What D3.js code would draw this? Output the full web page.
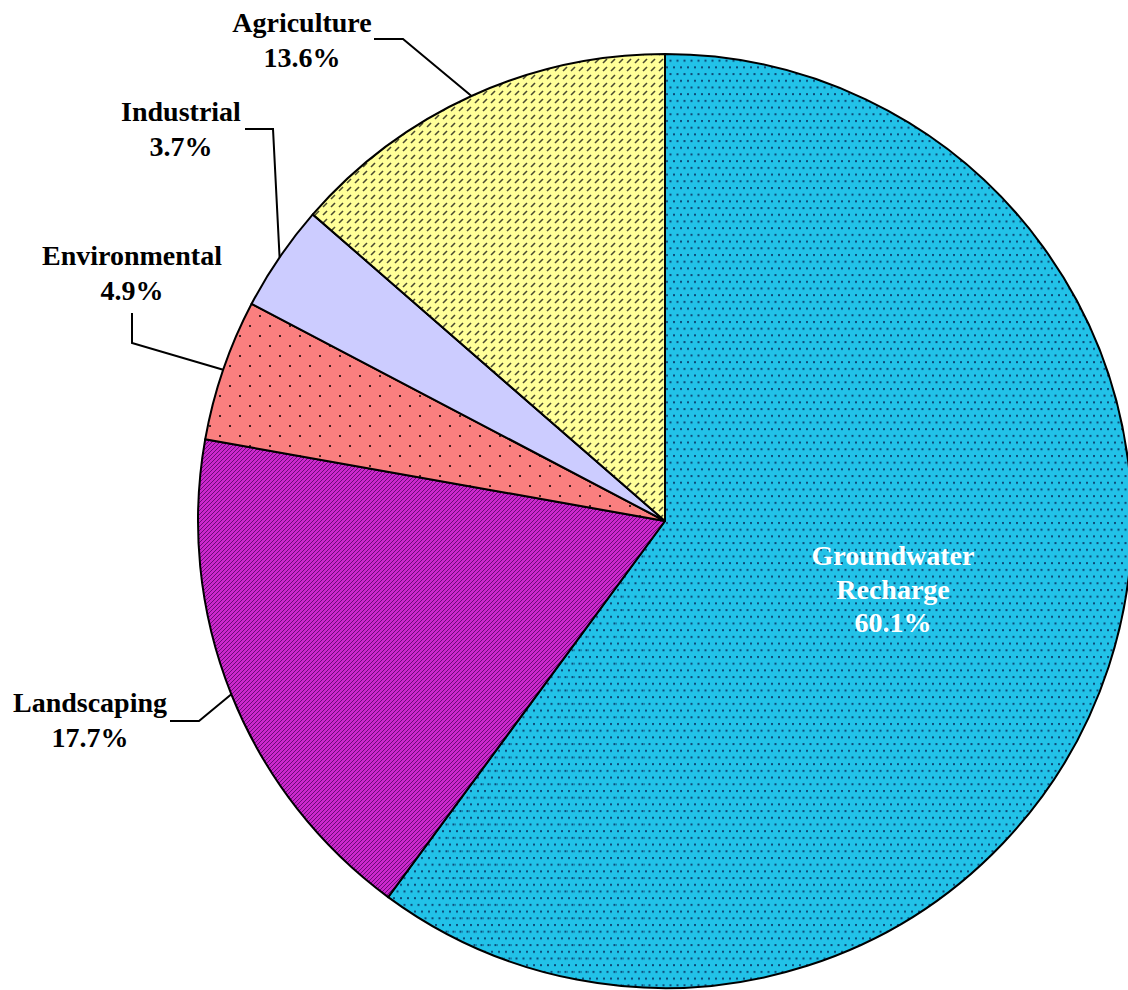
<!DOCTYPE html>
<html>
<head>
<meta charset="utf-8">
<script src="https://cdn.jsdelivr.net/npm/d3@7"></script>
<style>
  body { margin: 0; background: #fff; }
  text { font-family: "Liberation Serif", "Times New Roman", serif; font-weight: bold; font-size: 28px; }
</style>
</head>
<body>
<svg id="chart" width="1128" height="990"></svg>
<script>
// slices, clockwise from 12 o'clock
var categories = ["Groundwater Recharge", "Landscaping", "Environmental", "Industrial", "Agriculture"];
var values = [60.1, 17.7, 4.9, 3.7, 13.6];
var fills = ["#22c2e8", "#cc28cc", "#fa7f7f", "#ccccff", "#ffff99"];
var patterns = ["dots", "stripes", "sparse", "none", "dashes"];

// label layout: text lines, text anchor point, elbow of leader line
var labelLines = [["Groundwater", "Recharge", "60.1%"], ["Landscaping", "17.7%"], ["Environmental", "4.9%"], ["Industrial", "3.7%"], ["Agriculture", "13.6%"]];
var labelPos = [[893, 565], [90, 712], [132, 265], [181, 121], [302, 32]];
var leaderStart = [null, [170, 721], [132, 313], [245, 129], [374, 39]];
var leaderElbow = [null, [199, 721], [132, 343], [273, 129], [403, 39]];

var svg = d3.select("#chart");
var cx = 665, cy = 521, radius = 467;

var defs = svg.append("defs");
//cyan: offset dark dots
var p = defs.append("pattern").attr("id", "pat-dots").attr("patternUnits", "userSpaceOnUse").attr("width", 7).attr("height", 13.4);
p.append("rect").attr("width", 7).attr("height", 13.4).attr("fill", fills[0]);
p.append("rect").attr("x", 1).attr("y", 1).attr("width", 2).attr("height", 2).attr("fill", "#0d4a78");
p.append("rect").attr("x", 4.5).attr("y", 7.7).attr("width", 2).attr("height", 2).attr("fill", "#0d4a78");
//purple: fine diagonal stripes
p = defs.append("pattern").attr("id", "pat-stripes").attr("patternUnits", "userSpaceOnUse").attr("width", 4).attr("height", 4);
p.append("rect").attr("width", 4).attr("height", 4).attr("fill", fills[1]);
p.append("path").attr("d", "M-1,1 L1,-1 M0,4 L4,0 M3,5 L5,3").attr("stroke", "#6a0c78").attr("stroke-width", 1);
//pink: sparse dots
p = defs.append("pattern").attr("id", "pat-sparse").attr("patternUnits", "userSpaceOnUse").attr("width", 20).attr("height", 20);
p.append("rect").attr("width", 20).attr("height", 20).attr("fill", fills[2]);
p.append("rect").attr("x", 4).attr("y", 4).attr("width", 2).attr("height", 2).attr("fill", "#402020");
p.append("rect").attr("x", 14).attr("y", 14).attr("width", 2).attr("height", 2).attr("fill", "#402020");
//yellow: short slanted dashes
p = defs.append("pattern").attr("id", "pat-dashes").attr("patternUnits", "userSpaceOnUse").attr("width", 8).attr("height", 8);
p.append("rect").attr("width", 8).attr("height", 8).attr("fill", fills[4]);
p.append("path").attr("d", "M2,6 L6,2").attr("stroke", "#4a4a30").attr("stroke-width", 1.6);

var pie = d3.pie().sort(null).value(function (d) { return d; });
var arcs = pie(values);
var arc = d3.arc().innerRadius(0).outerRadius(radius);

var g = svg.append("g").attr("transform", "translate(" + cx + "," + cy + ")");
g.selectAll("path.slice").data(arcs).enter().append("path")
    .attr("class", "slice")
    .attr("d", arc)
    .attr("fill", function (d, i) { return patterns[i] === "none" ? fills[i] : "url(#pat-" + patterns[i] + ")"; })
    .attr("stroke", "#000").attr("stroke-width", 2).attr("stroke-linejoin", "round");

//leader lines end on the rim at the slice's mid angle
arcs.forEach(function (d, i) {
    if (!leaderStart[i]) return;
    var a = (d.startAngle + d.endAngle) / 2;
    var ex = cx + radius * Math.sin(a), ey = cy - radius * Math.cos(a);
    svg.append("polyline")
        .attr("points", [leaderStart[i], leaderElbow[i], [ex, ey]].map(function (q) { return q.join(","); }).join(" "))
        .attr("fill", "none").attr("stroke", "#000").attr("stroke-width", 2);
});

//labels
labelLines.forEach(function (lines, i) {
    var t = svg.append("text").attr("text-anchor", "middle")
        .attr("fill", i === 0 ? "#fff" : "#000");
    lines.forEach(function (s, j) {
        t.append("tspan").attr("x", labelPos[i][0]).attr("y", labelPos[i][1] + j * (i === 0 ? 33.5 : 35)).text(s);
    });
});
</script>
</body>
</html>
